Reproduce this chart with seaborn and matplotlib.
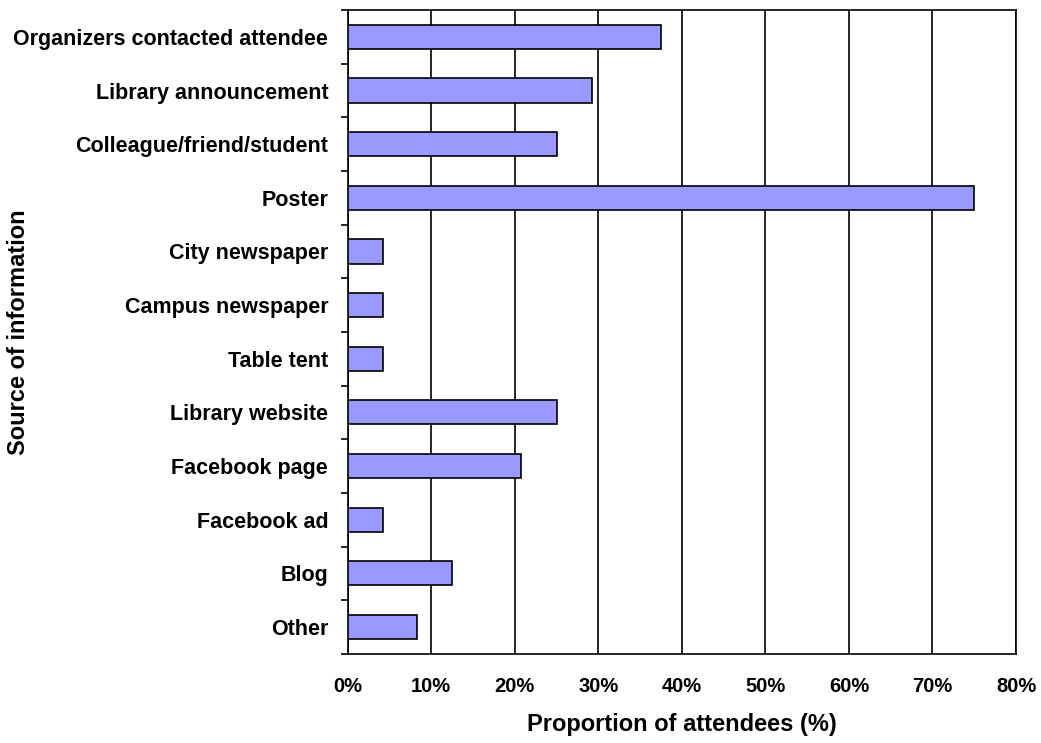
import numpy as np
import pandas as pd
import matplotlib
matplotlib.use("Agg")
import matplotlib.pyplot as plt
import seaborn as sns
from matplotlib.ticker import FixedLocator, PercentFormatter

sources = [
    "Organizers contacted attendee",
    "Library announcement",
    "Colleague/friend/student",
    "Poster",
    "City newspaper",
    "Campus newspaper",
    "Table tent",
    "Library website",
    "Facebook page",
    "Facebook ad",
    "Blog",
    "Other",
]
proportions = [37.5, 29.2, 25.0, 75.0, 4.2, 4.2, 4.2, 25.0, 20.8, 4.2, 12.5, 8.3]

df = pd.DataFrame({"source": sources, "proportion": proportions})

sns.set_style("white")
plt.rcParams["font.family"] = ["Liberation Sans", "DejaVu Sans"]
plt.rcParams["text.color"] = "black"
plt.rcParams["axes.labelcolor"] = "black"
plt.rcParams["xtick.color"] = "black"
plt.rcParams["ytick.color"] = "black"

fig = plt.figure(figsize=(10.41, 7.43), dpi=100)
ax = fig.add_axes([0.334, 0.12, 0.642, 0.8665])

sns.barplot(data=df, x="proportion", y="source", color="#9999FF",
            edgecolor="black", linewidth=1.2, width=0.45, saturation=1, ax=ax, zorder=3)

ax.set_xlim(0, 80)
ax.set_ylim(len(sources) - 0.5, -0.5)
ax.set_xticks(np.arange(0, 81, 10))
ax.xaxis.set_major_formatter(PercentFormatter(decimals=0))
ax.grid(axis="x", color="black", linewidth=1.2, zorder=0)
ax.grid(axis="y", visible=False)
ax.set_axisbelow(True)

for s in ax.spines.values():
    s.set_color("black")
    s.set_linewidth(1.2)

# x ticks outward, y ticks only between the categories
ax.tick_params(axis="x", direction="out", length=5, width=1.2, color="black",
               labelsize=14.5, pad=12)
ax.tick_params(axis="y", which="major", length=0, labelsize=15.5, pad=14)
ax.yaxis.set_minor_locator(FixedLocator(np.arange(-0.5, len(sources), 1.0)))
ax.tick_params(axis="y", which="minor", direction="out", length=5, width=1.2, color="black", left=True)

for lab in ax.get_xticklabels() + ax.get_yticklabels():
    lab.set_fontweight("bold")

ax.set_xlabel("Proportion of attendees (%)", fontsize=17, fontweight="bold", labelpad=12)
ax.set_ylabel("Source of information", fontsize=17, fontweight="bold")
ax.yaxis.set_label_coords(-0.476, 0.5)

fig.savefig("out.png", dpi=100)
